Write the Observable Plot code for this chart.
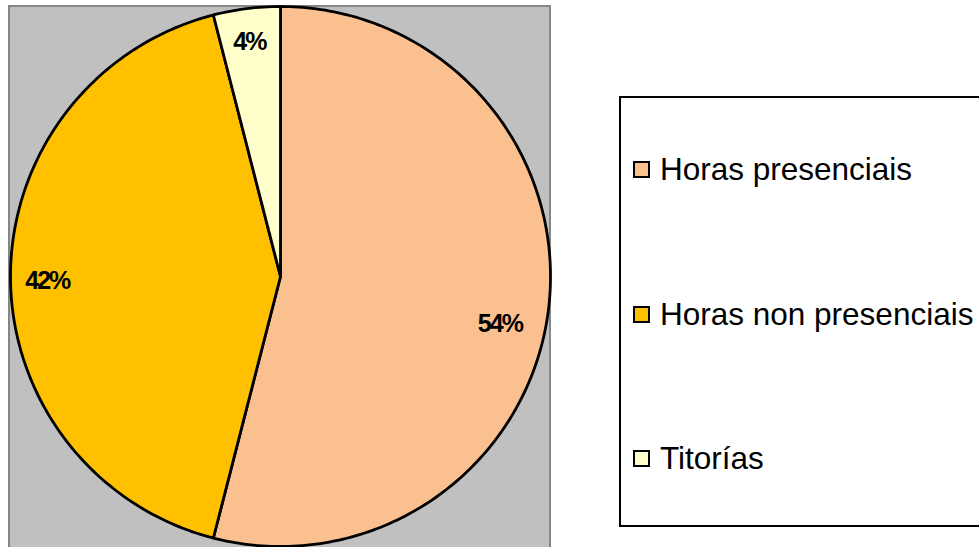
<!DOCTYPE html>
<html>
<head>
<meta charset="utf-8">
<script src="https://cdn.jsdelivr.net/npm/d3@7"></script>
<script src="https://cdn.jsdelivr.net/npm/@observablehq/plot@0.6"></script>
<style>
  html, body { margin: 0; padding: 0; background: #fff; overflow: hidden; }
  #wrap { position: relative; width: 979px; height: 547px; overflow: hidden; font-family: "Liberation Sans", Arial, sans-serif; }
  #panel { position: absolute; left: 8px; top: 5px; width: 539px; height: 600px; background: #C0C0C0; border: 2px solid #868686; }
  #chart { position: absolute; left: 0; top: 0; }
  #legend { position: absolute; left: 619px; top: 96px; width: 420px; height: 427px; border: 2.5px solid #000; background: #fff; }
  .item { position: absolute; left: 12px; display: flex; align-items: center; font-size: 31.5px; color: #000; white-space: nowrap; }
  .sw { width: 13px; height: 13px; border: 2px solid #000; margin-right: 10px; }
</style>
</head>
<body>
<div id="wrap">
  <div id="panel"></div>
  <div id="chart"></div>
  <div id="legend"></div>
</div>
<script>
// Data
const categories = ["Horas presenciais", "Horas non presenciais", "Titorías"];
const values = [54, 42, 4];
const labels = ["54%", "42%", "4%"];
const colors = ["#FAC090", "#FFC000", "#FFFFCC"];

const table = categories.map((c, i) => ({category: c, value: values[i], label: labels[i], color: colors[i]}));

// Slice geometry (angles from d3.pie, clockwise from 12 o'clock)
const arcs = d3.pie().sort(null).value(d => d.value)(table);
const poly = [];
const labelPts = [];
arcs.forEach((a, i) => {
  const n = Math.max(8, Math.ceil((a.endAngle - a.startAngle) * 60));
  poly.push({k: i, x: 0, y: 0, color: a.data.color});
  for (let j = 0; j <= n; j++) {
    const t = a.startAngle + (a.endAngle - a.startAngle) * j / n;
    poly.push({k: i, x: Math.sin(t), y: Math.cos(t), color: a.data.color});
  }
  poly.push({k: i, x: 0, y: 0, color: a.data.color});
  const m = (a.startAngle + a.endAngle) / 2;
  const r = 0.86;
  labelPts.push({x: r * Math.sin(m), y: r * Math.cos(m), label: a.data.label});
});

// label nudges (pixels), styling only
const nudges = [[-11, 18], [-1, 4], [-2, -4]];

const plot = Plot.plot({
  width: 560,
  height: 552,
  marginLeft: 10, marginRight: 10, marginTop: 6, marginBottom: 6,
  x: {domain: [-1, 1], axis: null},
  y: {domain: [-1, 1], axis: null},
  style: {background: "transparent", overflow: "visible"},
  marks: [
    Plot.line(poly, {x: "x", y: "y", z: "k", fill: "color", stroke: "#000", strokeWidth: 2.8, strokeLinejoin: "round", curve: "linear"}),
    ...labelPts.map((p, i) => Plot.text([p], {x: "x", y: "y", text: "label", dx: nudges[i][0], dy: nudges[i][1],
      fontSize: 25, fontWeight: "bold", fill: "#000", fontFamily: "Liberation Sans, Arial, sans-serif"}))
  ]
});
plot.querySelectorAll("text").forEach(t => t.setAttribute("letter-spacing", "-2"));
document.getElementById("chart").appendChild(plot);

// Legend
const legend = document.getElementById("legend");
const tops = [53, 198, 342];
table.forEach((d, i) => {
  const div = document.createElement("div");
  div.className = "item";
  div.style.top = tops[i] + "px";
  div.innerHTML = `<span class="sw" style="background:${d.color}"></span><span>${d.category}</span>`;
  legend.appendChild(div);
});
</script>
</body>
</html>
